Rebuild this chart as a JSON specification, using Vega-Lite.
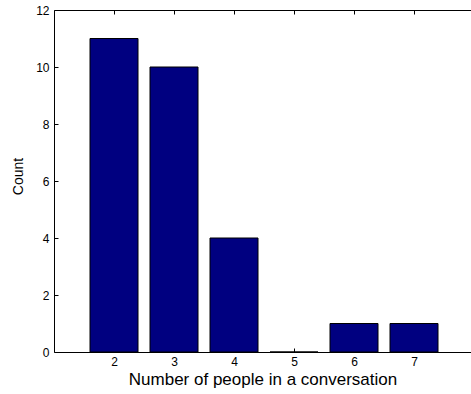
{
  "$schema": "https://vega.github.io/schema/vega-lite/v6.json",
  "width": 417,
  "height": 342,
  "autosize": {"type": "none"},
  "padding": {"left": 54, "top": 10, "right": 0, "bottom": 42},
  "background": "white",
  "config": {
    "view": {"stroke": null},
    "font": "Liberation Sans",
    "axis": {
      "grid": false,
      "domainColor": "#000000",
      "domainWidth": 1,
      "tickColor": "#000000",
      "tickWidth": 1,
      "tickSize": -4,
      "labelColor": "#000000",
      "labelFont": "Liberation Sans",
      "labelFontSize": 12,
      "titleColor": "#000000",
      "titleFont": "Liberation Sans",
      "titleFontWeight": "normal"
    }
  },
  "data": {
    "values": [
      {"people": 2, "count": 11},
      {"people": 3, "count": 10},
      {"people": 4, "count": 4},
      {"people": 5, "count": 0},
      {"people": 6, "count": 1},
      {"people": 7, "count": 1}
    ]
  },
  "layer": [
    {
      "mark": {"type": "bar", "size": 48, "fill": "#000080", "stroke": "#000000", "strokeWidth": 1},
      "encoding": {
        "x": {
          "field": "people",
          "type": "quantitative",
          "scale": {"domain": [1, 7.95], "nice": false, "zero": false, "padding": 0},
          "axis": {
            "orient": "bottom",
            "values": [2, 3, 4, 5, 6, 7],
            "title": "Number of people in a conversation",
            "titleFontSize": 17,
            "labelPadding": 8,
            "titlePadding": 4
          }
        },
        "y": {
          "field": "count",
          "type": "quantitative",
          "scale": {"domain": [0, 12], "nice": false},
          "axis": {
            "orient": "left",
            "values": [0, 2, 4, 6, 8, 10, 12],
            "title": "Count",
            "titleFontSize": 14,
            "titleY": 166,
            "labelPadding": 9,
            "titlePadding": 10
          }
        }
      }
    },
    {
      "mark": {"type": "point", "opacity": 0},
      "encoding": {
        "x": {
          "field": "people",
          "type": "quantitative",
          "scale": {"domain": [1, 7.95], "nice": false, "zero": false, "padding": 0},
          "axis": {
            "orient": "top",
            "values": [2, 3, 4, 5, 6, 7],
            "labels": false,
            "title": null
          }
        }
      }
    }
  ],
  "resolve": {"axis": {"x": "independent"}}
}
